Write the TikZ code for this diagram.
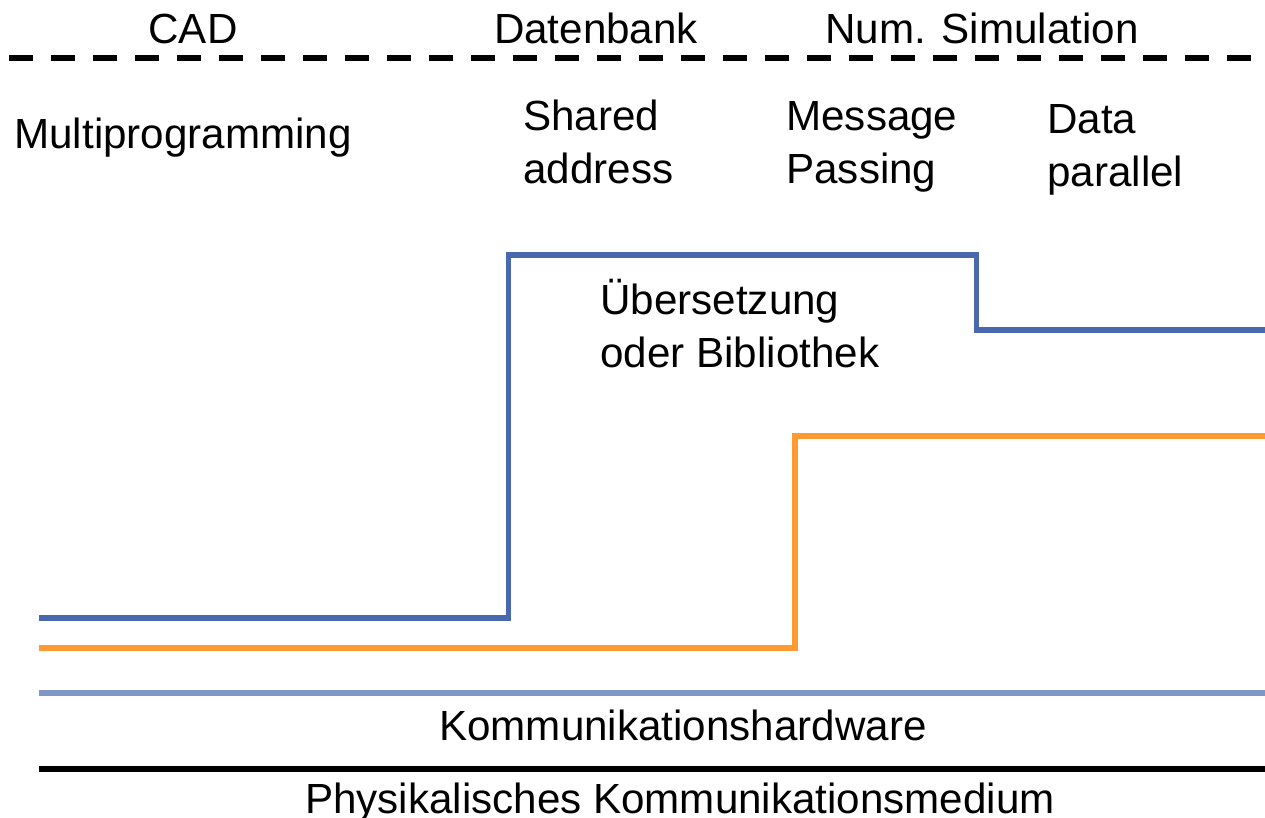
\documentclass[tikz,border=0pt]{standalone}
\usepackage{fontspec}
\setmainfont{Liberation Sans}
\definecolor{layerblue}{HTML}{4A68B0}
\definecolor{layerorange}{HTML}{FF9A33}
\definecolor{hwblue}{HTML}{7F96C8}
\begin{document}
\begin{tikzpicture}[x=0.02cm,y=-0.02cm,
  lbl/.style={inner sep=0pt,anchor=base west,font=\fontsize{24}{29.6}\selectfont},
  lblc/.style={inner sep=0pt,anchor=base,font=\fontsize{24}{29.6}\selectfont},
  lbl2/.style={inner sep=0pt,anchor=base west,align=left,font=\fontsize{24}{29.6}\selectfont},
  layer/.style={line width=3.4pt,line cap=butt,line join=miter},
  sep/.style={line width=3pt,dash pattern=on 0.48cm off 0.36cm}]
\useasboundingbox (0,0) rectangle (1265,818);
% top labels
\node[lblc] (cad) at (193,43) {CAD};
\node[lblc] (db) at (596,43) {Datenbank};
\node[lblc] (num) at (982,43) {Num. Simulation};
\coordinate (sepL) at (9,58);
\coordinate (sepR) at (1252,58);
\draw[sep] (sepL) -- (sepR);
% programming models (base anchor = baseline of last line)
\node[lbl] (mp) at (14,148) {Multiprogramming};
\node[lbl2] (sa) at (523,183) {Shared\\address};
\node[lbl2] (mpass) at (786,183) {Message\\Passing};
\node[lbl2] (dp) at (1047,186) {Data\\parallel};
\node[lbl2] (ueb) at (600,367) {Übersetzung\\oder Bibliothek};
% blue layer
\coordinate (b1) at (39,618);
\coordinate (b2) at (508.5,618);
\coordinate (b3) at (508.5,255);
\coordinate (b4) at (976.5,255);
\coordinate (b5) at (976.5,330);
\coordinate (b6) at (1265,330);
\draw[layer,layerblue] (b1) -- (b2) -- (b3) -- (b4) -- (b5) -- (b6);
% orange layer
\coordinate (o1) at (39,648);
\coordinate (o2) at (795,648);
\coordinate (o3) at (795,436);
\coordinate (o4) at (1265,436);
\draw[layer,layerorange] (o1) -- (o2) -- (o3) -- (o4);
% hardware
\coordinate (h1) at (39,693);
\coordinate (h2) at (1265,693);
\draw[layer,hwblue] (h1) -- (h2);
\node[lblc] (kh) at (683,740) {Kommunikationshardware};
\coordinate (m1) at (39,769);
\coordinate (m2) at (1265,769);
\draw[layer,black] (m1) -- (m2);
\node[lblc] (pk) at (680,813) {Physikalisches Kommunikationsmedium};
\end{tikzpicture}
\end{document}
